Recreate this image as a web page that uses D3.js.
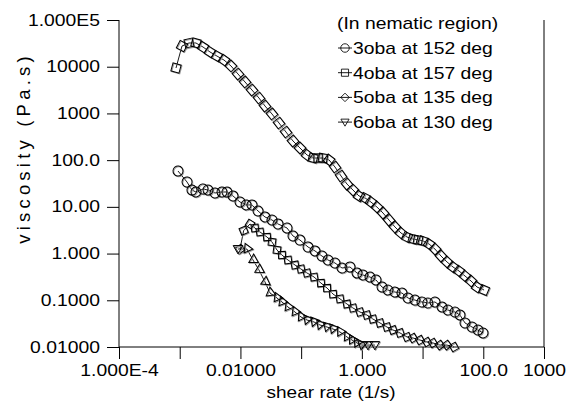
<!DOCTYPE html>
<html>
<head>
<meta charset="utf-8">
<script src="https://cdn.jsdelivr.net/npm/d3@7"></script>
<style>
  html, body { margin: 0; padding: 0; background: #fff; }
  svg { display: block; }
  text { font-family: "Liberation Sans", Arial, sans-serif; fill: #000; }
</style>
</head>
<body>
<svg id="chart" width="566" height="405"></svg>
<script>
// Shear-rate sweeps of nOBA homologues in the nematic phase: [shear rate (1/s), viscosity (Pa.s)]
const oba3 = [
  [9.37e-4, 58.6], [1.32e-3, 34.0], [1.59e-3, 22.9], [1.85e-3, 20.8], [2.42e-3, 24.1],
  [2.92e-3, 22.9], [3.81e-3, 19.8], [4.97e-3, 20.8], [6.00e-3, 20.8], [7.55e-3, 17.1],
  [9.84e-3, 12.7], [0.0124, 11.0], [0.0155, 11.0], [0.0195, 8.15], [0.0254, 6.07],
  [0.0331, 5.23], [0.0416, 4.30], [0.0585, 3.53], [0.0734, 2.38], [0.0957, 1.95],
  [0.130, 1.38], [0.169, 1.14], [0.220, 0.887], [0.277, 0.728], [0.361, 0.628],
  [0.471, 0.491], [0.638, 0.516], [0.832, 0.384], [1.04, 0.348], [1.36, 0.315],
  [1.71, 0.272], [2.15, 0.192], [2.69, 0.166], [3.51, 0.150], [4.58, 0.143],
  [5.75, 0.112], [7.50, 0.101], [9.77, 0.0919], [12.2, 0.0875], [16.0, 0.0919],
  [20.9, 0.0718], [26.2, 0.0619], [34.2, 0.0561], [41.3, 0.0484], [50.0, 0.0327],
  [65.2, 0.0268], [81.8, 0.0231], [98.9, 0.0200]
];
const oba4 = [
  [8.69e-4, 9380], [1.09e-3, 27700], [1.42e-3, 32200], [1.85e-3, 32200], [2.42e-3, 26400],
  [3.15e-3, 20700], [4.11e-3, 16900], [5.36e-3, 13900], [6.98e-3, 10400], [9.12e-3, 6980],
  [0.0119, 4710], [0.0155, 3170], [0.0202, 2140], [0.0254, 1440], [0.0331, 973],
  [0.0432, 624], [0.0563, 400], [0.0734, 257], [0.0957, 182], [0.125, 129],
  [0.157, 111], [0.190, 111], [0.229, 111], [0.288, 101], [0.361, 71.3],
  [0.454, 45.8], [0.569, 30.8], [0.714, 22.9], [0.897, 17.1], [1.13, 15.5],
  [1.41, 12.7], [1.77, 9.93], [2.23, 7.39], [2.80, 5.23], [3.51, 3.71],
  [4.41, 2.76], [5.54, 2.26], [6.95, 2.05], [8.41, 1.95], [10.2, 1.86],
  [12.8, 1.60], [16.0, 1.25], [20.1, 0.887], [25.3, 0.660], [31.7, 0.516],
  [39.8, 0.424], [50.0, 0.331], [62.8, 0.259], [78.9, 0.192], [103, 0.166]
];
const oba5 = [
  [9.84e-3, 1.25], [0.0113, 3.10], [0.0144, 4.30], [0.0173, 3.53], [0.0210, 2.90],
  [0.0274, 2.26], [0.0331, 1.77], [0.0400, 1.19], [0.0483, 0.932], [0.0607, 0.728],
  [0.0792, 0.569], [0.0995, 0.467], [0.125, 0.384], [0.163, 0.315], [0.212, 0.234],
  [0.267, 0.183], [0.335, 0.136], [0.437, 0.107], [0.569, 0.0832], [0.714, 0.0684],
  [0.931, 0.0561], [1.21, 0.0484], [1.52, 0.0397], [1.99, 0.0327], [2.59, 0.0268],
  [3.26, 0.0231], [4.25, 0.0200], [5.54, 0.0164], [6.95, 0.0156], [9.06, 0.0141],
  [11.8, 0.0128], [14.8, 0.0122], [19.3, 0.0110], [25.2, 0.0110], [32.9, 0.0100]
];
const oba6 = [
  [9.12e-3, 1.25], [0.0128, 1.25], [0.0161, 0.728], [0.0202, 0.445], [0.0254, 0.246],
  [0.0307, 0.143], [0.0400, 0.112], [0.0483, 0.0919], [0.0607, 0.0718], [0.0792, 0.0561],
  [0.0995, 0.0439], [0.125, 0.0378], [0.163, 0.0343], [0.204, 0.0296], [0.267, 0.0268],
  [0.335, 0.0243], [0.437, 0.0209], [0.569, 0.0164], [0.687, 0.0141], [0.832, 0.0122],
  [1.00, 0.0110], [1.26, 0.0110], [1.64, 0.0110]
];

const seriesNames = ["3oba at 152 deg", "4oba at 157 deg", "5oba at 135 deg", "6oba at 130 deg"];
const seriesSymbols = ["circle", "square", "diamond", "triangle"];
const legendTitle = "(In nematic region)";

const xTickValues = [1e-4, 1e-2, 1, 100, 1000];
const xTickLabels = ["1.000E-4", "0.01000", "1.000", "100.0", "1000"];
const yTickValues = [0.01, 0.1, 1, 10, 100, 1000, 10000, 100000];
const yTickLabels = ["0.01000", "0.1000", "1.000", "10.00", "100.0", "1000", "10000", "1.000E5"];

const xTitle = "shear rate (1/s)";
const yTitle = "viscosity  (Pa.s)";

// ---------------------------------------------------------------------------
const svg = d3.select("#chart");
const plot = { left: 119, right: 544, top: 20, bottom: 347 };
const FONT_SCALE = 1.21;

const x = d3.scaleLog().domain([1e-4, 1000]).range([plot.left, plot.right]);
const y = d3.scaleLog().domain([0.01, 1e5]).range([plot.bottom, plot.top]);

// decade and 2..9 sub-decade tick positions
function decades(lo, hi) {
  const out = [];
  for (let e = Math.log10(lo); e <= Math.log10(hi) + 1e-9; e++) out.push(Math.pow(10, e));
  return out;
}
function minors(lo, hi) {
  const out = [];
  for (let e = Math.log10(lo); e < Math.log10(hi) - 1e-9; e++)
    for (let k = 2; k <= 9; k++) out.push(k * Math.pow(10, e));
  return out;
}
const fmtFrom = (vals, labels) => v => {
  const i = vals.findIndex(t => Math.abs(Math.log10(t) - Math.log10(v)) < 1e-6);
  return i >= 0 ? labels[i] : "";
};

// ---- x axis
const gx = svg.append("g").attr("transform", `translate(0,${plot.bottom})`);
gx.call(d3.axisBottom(x).tickValues(minors(1e-4, 1000)).tickSize(6).tickFormat(""));
gx.call(d3.axisBottom(x).tickValues(decades(1e-4, 1000)).tickSize(12)
  .tickFormat(fmtFrom(xTickValues, xTickLabels)).tickPadding(6));
gx.selectAll("path.domain").attr("d", `M${plot.left},0H${plot.right}`);

// ---- y axis
const gy = svg.append("g").attr("transform", `translate(${plot.left},0)`);
gy.call(d3.axisLeft(y).tickValues(minors(0.01, 1e5)).tickSize(6).tickFormat(""));
gy.call(d3.axisLeft(y).tickValues(decades(0.01, 1e5)).tickSize(12)
  .tickFormat(fmtFrom(yTickValues, yTickLabels)).tickPadding(7));
gy.selectAll("path.domain").attr("d", `M0,${plot.top}V${plot.bottom}`);

svg.selectAll(".tick line, path.domain").attr("stroke", "#000").attr("stroke-width", 1);
svg.selectAll(".tick text").attr("font-size", 16).attr("fill", "#000")
  .attr("font-family", '"Liberation Sans", Arial, sans-serif');

// stretch tick labels horizontally around their anchor
gx.selectAll(".tick text").attr("transform", `scale(${FONT_SCALE},1)`);
gy.selectAll(".tick text").each(function () {
  const t = d3.select(this);
  t.attr("x", +t.attr("x") / FONT_SCALE).attr("transform", `scale(${FONT_SCALE},1)`);
});

// right frame line
svg.append("line")
  .attr("x1", plot.right).attr("x2", plot.right)
  .attr("y1", plot.top).attr("y2", plot.bottom)
  .attr("stroke", "#000").attr("stroke-width", 1);

// ---- axis titles
svg.append("text")
  .attr("transform", `translate(331,398) scale(1.12,1)`)
  .attr("text-anchor", "middle").attr("font-size", 17).text(xTitle);

svg.append("text")
  .attr("transform", `translate(30,${148}) rotate(-90)`)
  .attr("text-anchor", "middle").attr("font-size", 18.5).attr("letter-spacing", 4.2)
  .text(yTitle);

// ---- markers
const symbolPath = {
  circle: "M5,0A5,5 0 1,1 -5,0A5,5 0 1,1 5,0Z",
  square: "M-4.2,-4.2H4.2V4.2H-4.2Z",
  diamond: "M0,-5L5,0L0,5L-5,0Z",
  triangle: "M-4.8,-3.5L4.8,-3.5L0,4.8Z"
};

const line = d3.line().x(d => x(d[0])).y(d => y(d[1]));
const allSeries = [oba3, oba4, oba5, oba6];

const gData = svg.append("g");
allSeries.forEach((data, si) => {
  const pts = data.map(d => [x(d[0]), y(d[1])]);
  gData.append("path").attr("d", line(data))
    .attr("fill", "none").attr("stroke", "#000").attr("stroke-width", 0.9);

  const sym = symbolPath[seriesSymbols[si]];
  // each marker turns with the local direction of its curve
  const ang = pts.map((p, i) => {
    const a = pts[Math.max(0, i - 1)], b = pts[Math.min(pts.length - 1, i + 1)];
    return Math.atan2(b[1] - a[1], b[0] - a[0]) * 180 / Math.PI;
  });
  const g = gData.append("g");
  g.selectAll("path.echo").data(pts).join("path").attr("class", "echo")
    .attr("d", sym)
    .attr("transform", (p, i) => `translate(${p[0] + 0.8},${p[1] + 0.8}) rotate(${ang[i]})`)
    .attr("fill", "none").attr("stroke", "#999").attr("stroke-width", 1);
  g.selectAll("path.mk").data(pts).join("path").attr("class", "mk")
    .attr("d", sym)
    .attr("transform", (p, i) => `translate(${p[0]},${p[1]}) rotate(${ang[i]})`)
    .attr("fill", "none").attr("stroke", "#000").attr("stroke-width", 1);
});

// ---- legend
const lg = svg.append("g").attr("transform", "translate(337,0)");
lg.append("text").attr("transform", `translate(0,29) scale(${FONT_SCALE},1)`)
  .attr("font-size", 16).text(legendTitle);
seriesNames.forEach((name, i) => {
  const cy = 48 + i * 24.7;
  lg.append("line").attr("x1", 1).attr("x2", 15).attr("y1", cy).attr("y2", cy)
    .attr("stroke", "#000").attr("stroke-width", 0.9);
  lg.append("path").attr("d", symbolPath[seriesSymbols[i]])
    .attr("transform", `translate(8,${cy}) scale(0.85)`)
    .attr("fill", "none").attr("stroke", "#000").attr("stroke-width", 1);
  lg.append("text").attr("transform", `translate(16,${cy + 6}) scale(${FONT_SCALE},1)`)
    .attr("font-size", 16).text(name);
});
</script>
</body>
</html>
